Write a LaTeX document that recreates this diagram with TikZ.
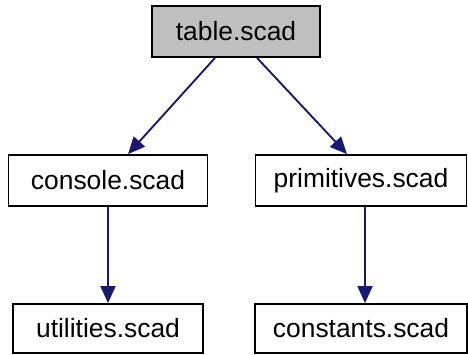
\documentclass[tikz,border=0pt]{standalone}
\usepackage{fontspec}
\setmainfont{Liberation Sans}
\usetikzlibrary{arrows.meta}
\definecolor{edgeblue}{HTML}{191970}
\definecolor{boxgray}{HTML}{BFBFBF}
\begin{document}
\begin{tikzpicture}[x=1bp,y=-1bp,
  filebox/.style={draw=black,line width=1.8bp,inner sep=0pt,anchor=center,
    font=\fontsize{26.5}{30}\selectfont},
  dep/.style={draw=edgeblue,line width=1.9bp,-{Triangle[length=17bp,width=15bp]}}]
\useasboundingbox (0,0) rectangle (468,354);
\node[filebox,fill=boxgray,minimum width=168bp,minimum height=51bp] (table) at (236,31.5) {table.scad};
\node[filebox,minimum width=199bp,minimum height=51bp] (console) at (108,180.5) {console.scad};
\node[filebox,minimum width=211bp,minimum height=51bp] (prim) at (361,180.5) {primitives.scad};
\node[filebox,minimum width=190bp,minimum height=49bp] (util) at (108,328.5) {utilities.scad};
\node[filebox,minimum width=212bp,minimum height=49bp] (const) at (361,328.5) {constants.scad};
\draw[dep] ([xshift=-21bp]table.south) -- ([xshift=20bp]console.north);
\draw[dep] ([xshift=21bp]table.south) -- ([xshift=-14bp]prim.north);
\draw[dep] (console.south) -- (util.north);
\draw[dep] ([xshift=4bp]prim.south) -- ([xshift=4bp]const.north);
\end{tikzpicture}
\end{document}
